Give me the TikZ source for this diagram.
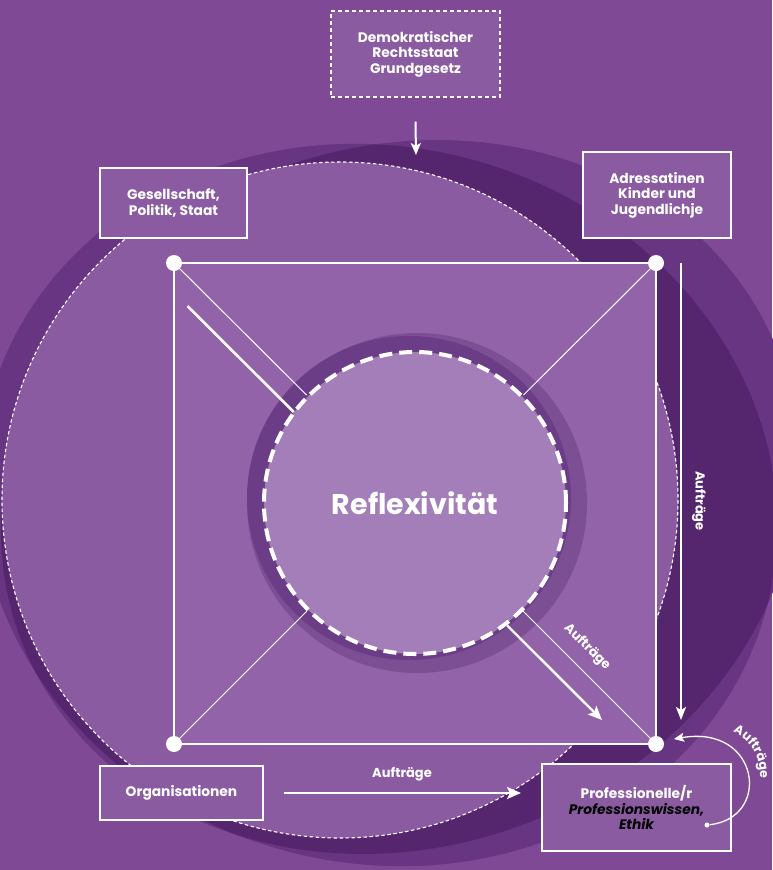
\documentclass[tikz,border=0pt]{standalone}
\usepackage{fontspec}
\setmainfont{Poppins}
\usetikzlibrary{arrows.meta,calc,decorations.text}
\definecolor{bgc}{HTML}{7F4996}
\definecolor{medc}{HTML}{673582}
\definecolor{darkc}{HTML}{55266D}
\definecolor{circc}{HTML}{8B5BA1}
\definecolor{sqc}{HTML}{9263A8}
\definecolor{ringc}{HTML}{7C4E94}
\definecolor{crescc}{HTML}{6B3D87}
\definecolor{corec}{HTML}{A47EB8}
\definecolor{boxc}{HTML}{8B5BA1}
\tikzset{
  boxnode/.style={draw=white, line width=1.3pt, fill=boxc, inner sep=0pt, align=center,
    text=white, font=\bfseries\fontsize{13.8}{15.5}\selectfont},
  dashbox/.style={boxnode, dash pattern=on 4pt off 3pt, line width=1.2pt},
  dot/.style={circle, fill=white, minimum size=16pt, inner sep=0pt},
  smalldot/.style={circle, fill=white, minimum size=5pt, inner sep=0pt},
  arr/.style={white, line width=2.4pt, -{Stealth[length=14pt,width=12pt,inset=3pt]}},
  thin/.style={white, line width=1pt},
  lbl/.style={text=white, font=\bfseries\fontsize{13}{14}\selectfont, inner sep=0pt},
  shapeA/.style={rotate around={-15:(378,505)}},
  shapeB/.style={rotate around={20:(400,497)}},
}
\begin{document}
\begin{tikzpicture}[x=1pt,y=-1pt]
\useasboundingbox (0,0) rectangle (772,870);
\fill[bgc] (0,0) rectangle (772,870);
% big overlapping shapes
\fill[medc, shapeA] (378,505) ellipse[x radius=402, y radius=358];
\fill[medc, shapeB] (400,497) ellipse[x radius=405, y radius=350];
\begin{scope}
  \clip[shapeA] (378,505) ellipse[x radius=402, y radius=358];
  \fill[darkc, shapeB] (400,497) ellipse[x radius=405, y radius=350];
\end{scope}
% dashed light circle
\fill[circc] (340,500) circle[radius=338];
\draw[white, line width=1.1pt, dash pattern=on 3.5pt off 2.5pt] (340,500) circle[radius=338];
% square
\coordinate (TL) at (174,263);
\coordinate (TR) at (656,263);
\coordinate (BR) at (656,744);
\coordinate (BL) at (174,744);
\fill[sqc] (TL) rectangle (BR);
\draw[white, line width=1.3pt] (TL) -- (TR) -- (BR) -- (BL) -- cycle;
% center rings
\fill[ringc] (417,503) circle[radius=170];
\fill[crescc] (409,498) circle[radius=162];
\node[circle, minimum size=302pt, inner sep=0pt, fill=corec, draw=white, line width=4pt,
  dash pattern=on 13pt off 7pt, text=white, font=\bfseries\fontsize{28.5}{30}\selectfont]
  (core) at (415,503) {Reflexivität};
% thin diagonals
\draw[thin] (TL) -- (core);
\draw[thin] (TR) -- (core);
\draw[thin] (BL) -- (core);
\draw[thin] (BR) -- (core);
% thick parallel line (top-left) and arrow (bottom-right)
\coordinate (tlS) at (187.5,306.1);
\coordinate (tlE) at (293.8,412);
\draw[white, line width=2.6pt] (tlS) -- (tlE);
\coordinate (brS) at (507.2,625.5);
\coordinate (brE) at (602,720);
\draw[arr] (brS) -- (brE);
\node[lbl, rotate=-45] (aufD) at (587,647) {Aufträge};
% boxes
\node[dashbox, minimum width=169pt, minimum height=86pt] (demo) at (415.5,54) {Demokratischer\\Rechtsstaat\\Grundgesetz};
\node[boxnode, minimum width=147pt, minimum height=70pt] (ges) at (173.5,203) {Gesellschaft,\\Politik, Staat};
\node[boxnode, minimum width=148pt, minimum height=86pt] (adr) at (657,195) {Adressatinen\\Kinder und\\Jugendlichje};
\node[boxnode, minimum width=163pt, minimum height=54pt] (org) at (181.5,793) {Organisationen};
\node[boxnode, minimum width=189pt, minimum height=87pt] (prof) at (636.5,807.5)
  {Professionelle/r\\\textcolor{black}{\itshape Professionswissen,}\\\textcolor{black}{\itshape Ethik}};
% arrows
\coordinate (topTip) at (416,155);
\draw[arr, line width=2pt, -{Stealth[length=12pt,width=10pt,inset=3pt]}] ([yshift=-24pt]demo.south) -- (topTip);
\coordinate (vS) at (681,263);
\coordinate (vE) at (681,720);
\draw[arr, line width=2pt, -{Stealth[length=13pt,width=10pt,inset=3pt]}] (vS) -- (vE);
\node[lbl, rotate=-90] (aufV) at (699,501) {Aufträge};
\coordinate (bTip) at (521,793);
\draw[arr] ([xshift=20pt]org.east) -- (bTip);
\node[lbl] (aufB) at (402,774) {Aufträge};
% curved arrow
\node[smalldot] (cS) at (707,825) {};
\coordinate (cE) at (674,739);
\draw[white, line width=1.3pt, -{Stealth[length=10pt,width=9pt,inset=2pt]}]
  (cS) .. controls (772,818) and (760,724) .. (cE);
\path[decorate, decoration={text along path, text align=center,
  text={|\bfseries\fontsize{12.5}{13}\selectfont\color{white}|Aufträge}}]
  (714,774) ++(-78:46) arc[start angle=-78, end angle=18, radius=46];
% corner dots
\node[dot] (dTL) at (TL) {};
\node[dot] (dTR) at (TR) {};
\node[dot] (dBR) at (BR) {};
\node[dot] (dBL) at (BL) {};
\end{tikzpicture}
\end{document}
